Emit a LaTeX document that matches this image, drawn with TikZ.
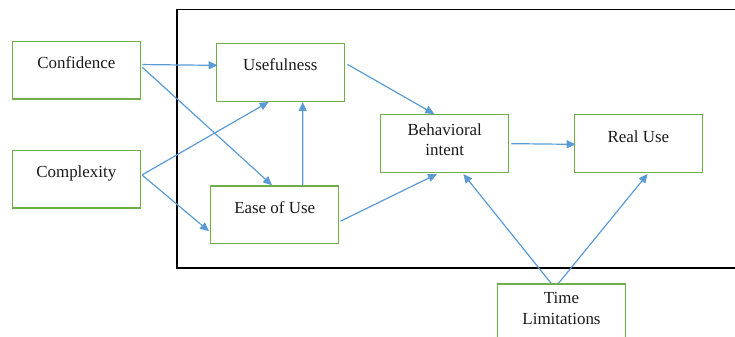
\documentclass[tikz,border=0pt]{standalone}
\usepackage{fontspec}
\setmainfont{Liberation Serif}
\newfontfamily\tnr{Liberation Serif}
\usetikzlibrary{arrows.meta,calc}
\definecolor{boxgreen}{HTML}{70AD47}
\definecolor{arrblue}{HTML}{5B9BD5}
\begin{document}
\begin{tikzpicture}[x=1bp,y=-1bp,
  box/.style={draw=boxgreen, line width=1.3bp, minimum width=128bp, minimum height=57.6bp, inner sep=0},
  lbl/.style={anchor=north, font=\tnr\fontsize{17}{20.5}\selectfont, align=center, inner sep=0, text=black!90},
  conn/.style={draw=arrblue, line width=1.2bp, -{Triangle[length=9bp,width=8bp]}}]
\useasboundingbox (0,0) rectangle (735,336);
\clip (0,0) rectangle (735,336);
\draw[line width=1.2bp] (177,9.3) rectangle (745,268);
\node[box, label={[lbl, yshift=-15.5bp]north:Confidence}] (conf) at (76.3,70.3) {};
\node[box, label={[lbl, yshift=-15.5bp]north:Complexity}] (comp) at (76.3,179.2) {};
\node[box, label={[lbl, yshift=-15.5bp]north:Usefulness}] (usef) at (280.3,72.5) {};
\node[box, label={[lbl, yshift=-16bp]north:Ease of Use}] (ease) at (274.7,214.7) {};
\node[box, label={[lbl, yshift=-9bp]north:Behavioral\\intent}] (beh) at (444.7,143.5) {};
\node[box, label={[lbl, yshift=-16bp]north:Real Use}] (real) at (638.3,143.5) {};
\node[box, label={[lbl, yshift=-9bp]north:Time\\Limitations}] (time) at (561.5,312.8) {};
\draw[conn] ($(conf.north east)+(1.4,23.7)$) -- ($(usef.north west)+(2,22.3)$);
\draw[conn] ($(conf.north east)+(1.4,26.5)$) -- ($(ease.north west)+(62,0)$);
\draw[conn] ($(comp.north east)+(1.4,25)$) -- ($(usef.south west)+(53,0)$);
\draw[conn] ($(comp.north east)+(1.4,25.5)$) -- ($(ease.north west)+(-1,46)$);
\draw[conn] ($(ease.north)+(28,0)$) -- ($(usef.south)+(22.4,0)$);
\draw[conn] ($(usef.north east)+(2.5,21.3)$) -- ($(beh.north west)+(54.3,0)$);
\draw[conn] ($(ease.north east)+(1,36)$) -- ($(beh.south west)+(57,1)$);
\draw[conn] ($(beh.north east)+(2,29.6)$) -- ($(real.north west)+(2,30.3)$);
\draw[conn] ($(time.north west)+(54.3,0)$) -- ($(beh.south west)+(83.3,1)$);
\draw[conn] ($(time.north west)+(61.6,0)$) -- ($(real.south west)+(74,1)$);
\end{tikzpicture}
\end{document}
